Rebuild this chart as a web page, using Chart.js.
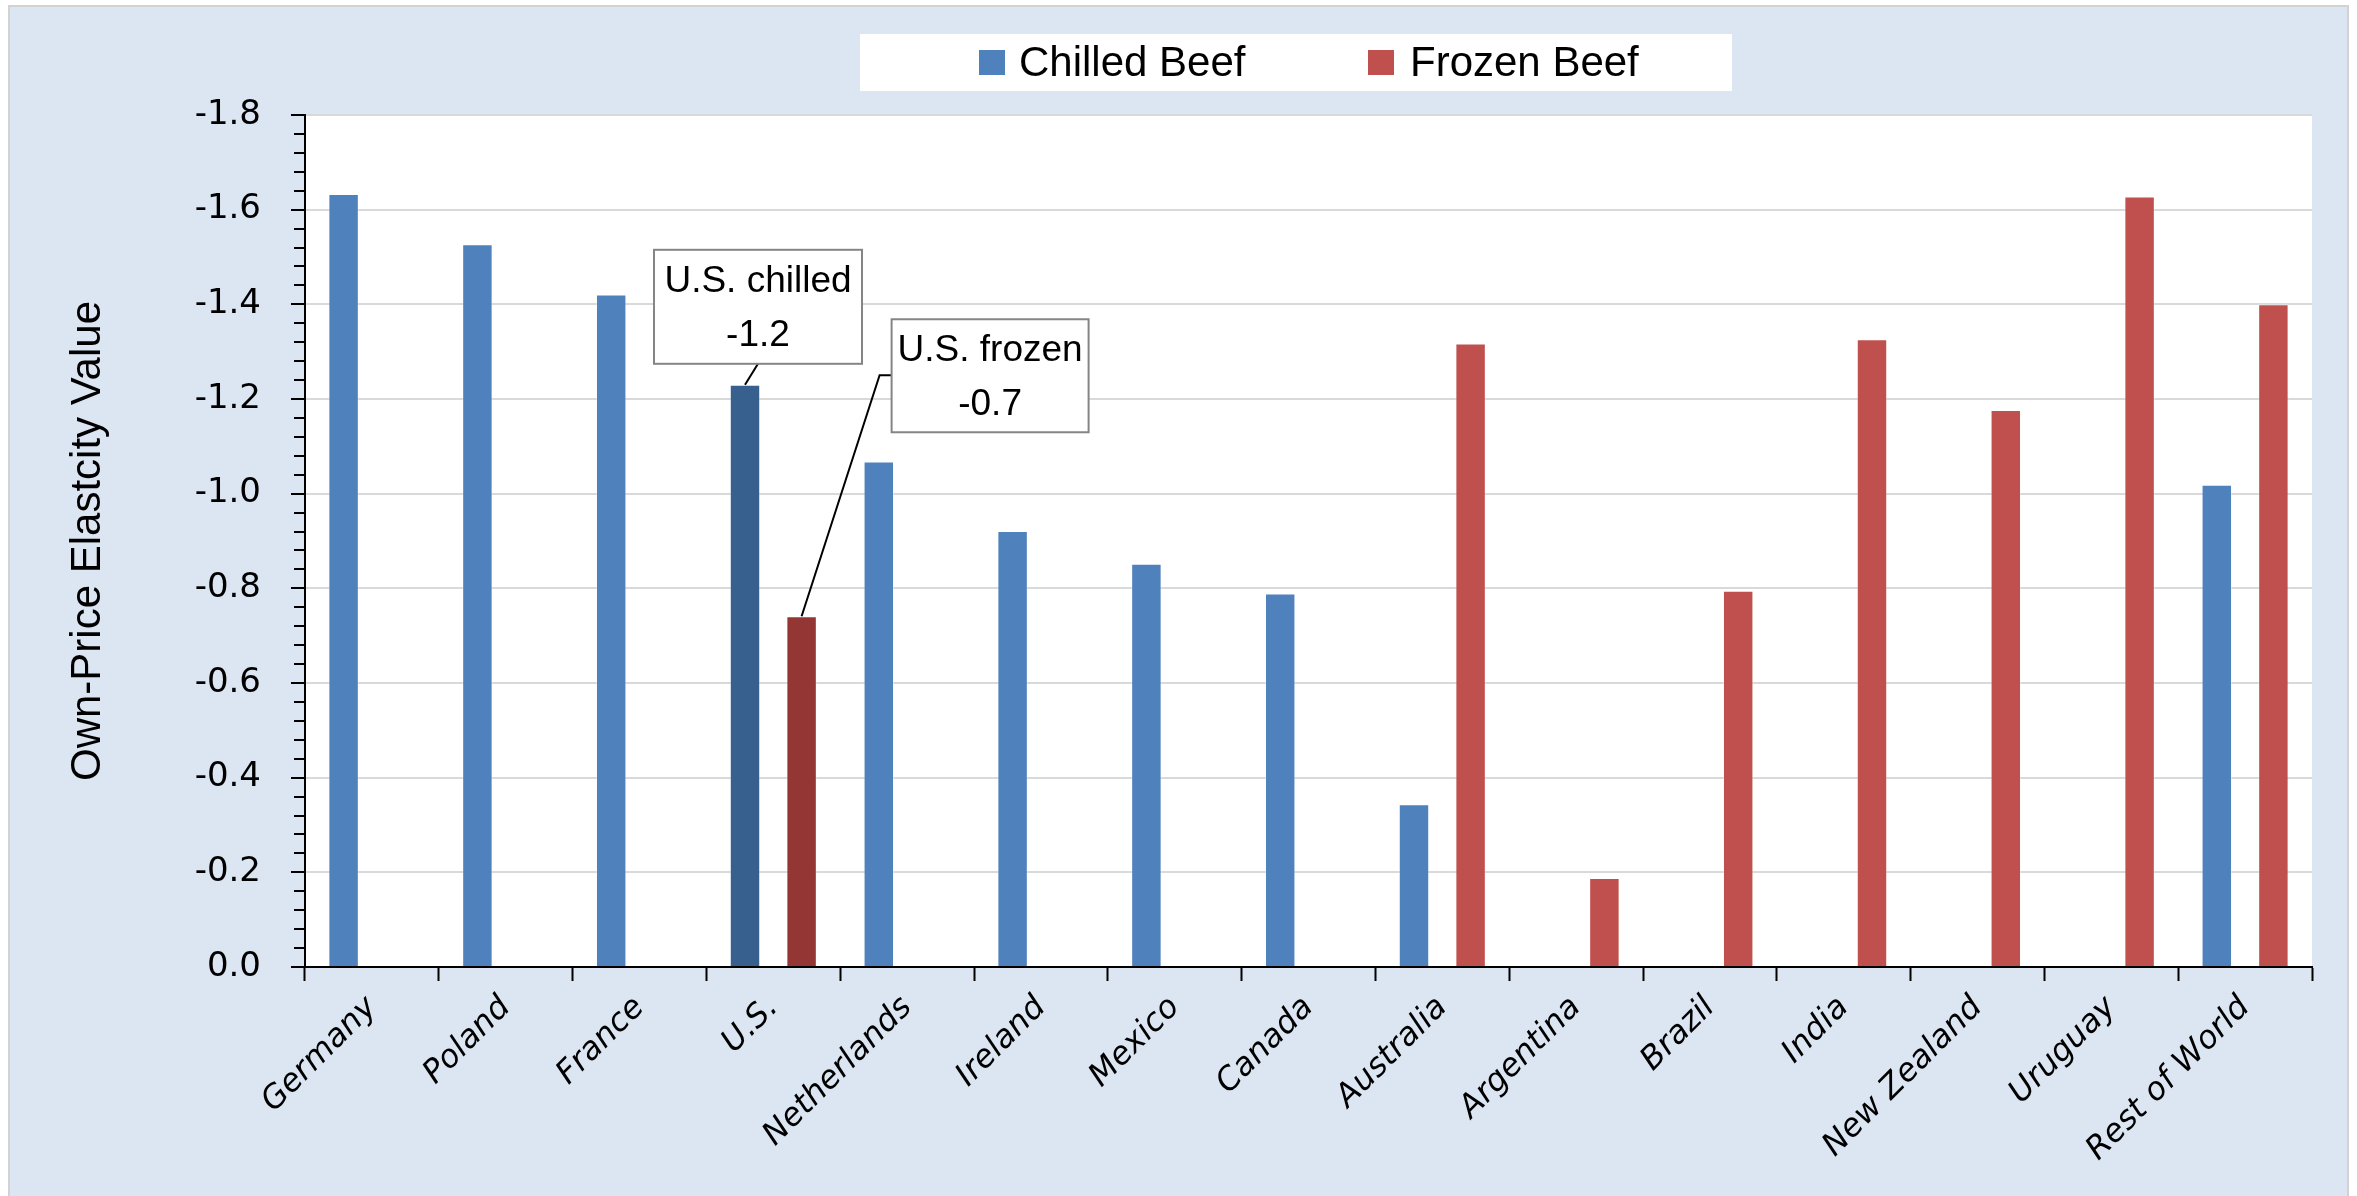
<!DOCTYPE html>
<html>
<head>
<meta charset="utf-8">
<script src="https://cdn.jsdelivr.net/npm/chart.js@4/dist/chart.umd.min.js"></script>
<style>
  html, body { margin: 0; padding: 0; background: #fff; }
  #wrap { width: 2357px; height: 1196px; position: relative; }
</style>
</head>
<body>
<div id="wrap"><canvas id="c" width="2357" height="1196"></canvas></div>
<script>
// Own-price elasticities of beef import demand, by supplying country
const countries = ['Germany', 'Poland', 'France', 'U.S.', 'Netherlands', 'Ireland', 'Mexico', 'Canada',
  'Australia', 'Argentina', 'Brazil', 'India', 'New Zealand', 'Uruguay', 'Rest of World'];
const chilledBeef = [-1.633, -1.527, -1.421, -1.23, -1.068, -0.921, -0.852, -0.789,
  -0.344, null, null, null, null, null, -1.019];
const frozenBeef = [null, null, null, -0.741, null, null, null, null,
  -1.317, -0.188, -0.795, -1.326, -1.177, -1.628, -1.40];
const seriesNames = ['Chilled Beef', 'Frozen Beef'];
const yAxisTitle = 'Own-Price Elastcity Value';
const highlighted = 'U.S.';
const calloutNames = ['U.S. chilled', 'U.S. frozen'];

const BLUE = '#4F81BD', BLUE_DARK = '#37608F';
const RED = '#C0504D', RED_DARK = '#943634';
const TEXT_FONT = '"Liberation Sans", Arial, sans-serif';

// Page frame, light-blue panel and white plot area
const framePlugin = {
  id: 'frame',
  beforeDraw(chart) {
    const { ctx, chartArea: a, width, height } = chart;
    ctx.save();
    ctx.fillStyle = '#ffffff';
    ctx.fillRect(0, 0, width, height);
    ctx.fillStyle = '#DCE6F2';
    ctx.fillRect(8, 5, 2341, height);
    ctx.strokeStyle = '#D2D2D2';
    ctx.lineWidth = 2;
    ctx.strokeRect(9, 6, 2339, height + 10);
    ctx.fillStyle = '#ffffff';
    ctx.fillRect(a.left, a.top, a.right - a.left, a.bottom - a.top);
    ctx.restore();
  }
};

// Minor tick marks on the value axis
const minorTicksPlugin = {
  id: 'minorTicks',
  afterDraw(chart) {
    const y = chart.scales.y;
    const { ctx } = chart;
    const x0 = chart.chartArea.left - 1;
    ctx.save();
    ctx.strokeStyle = '#000';
    ctx.lineWidth = 2;
    for (let i = 0; i <= 45; i++) {
      if (i % 5 === 0) continue;
      const py = Math.round(y.getPixelForValue(-i * 0.04));
      ctx.beginPath();
      ctx.moveTo(x0 - 10, py);
      ctx.lineTo(x0, py);
      ctx.stroke();
    }
    ctx.restore();
  }
};

// Legend panel at the top
const legendPlugin = {
  id: 'boxLegend',
  afterDraw(chart) {
    const { ctx } = chart;
    ctx.save();
    ctx.fillStyle = '#ffffff';
    ctx.fillRect(860, 34, 872, 57);
    const items = [
      { sx: 979, tx: 1019, color: BLUE, text: seriesNames[0] },
      { sx: 1368, tx: 1410, color: RED, text: seriesNames[1] }
    ];
    ctx.font = '42px ' + TEXT_FONT;
    ctx.textBaseline = 'middle';
    ctx.textAlign = 'left';
    items.forEach(it => {
      ctx.fillStyle = it.color;
      ctx.fillRect(it.sx, 50, 26, 25);
      ctx.fillStyle = '#000';
      ctx.fillText(it.text, it.tx, 64);
    });
    ctx.restore();
  }
};

// Callout boxes for the highlighted country
const calloutPlugin = {
  id: 'callouts',
  afterDatasetsDraw(chart) {
    const { ctx } = chart;
    const idx = countries.indexOf(highlighted);
    const cBar = chart.getDatasetMeta(0).data[idx];
    const fBar = chart.getDatasetMeta(1).data[idx];
    ctx.save();
    ctx.strokeStyle = '#000';
    ctx.lineWidth = 2;

    // chilled
    const bx = cBar.x, by = cBar.y;
    ctx.beginPath();
    ctx.moveTo(bx, by);
    ctx.lineTo(bx + 13, by - 21);
    ctx.stroke();
    const box1 = { x: bx + 13 - 104, y: by - 21 - 114, w: 208, h: 114 };

    // frozen
    const fx = fBar.x, fy = fBar.y;
    ctx.beginPath();
    ctx.moveTo(fx, fy);
    ctx.lineTo(fx + 78, fy - 241);
    ctx.lineTo(fx + 90, fy - 241);
    ctx.stroke();
    const box2 = { x: fx + 90, y: fy - 297, w: 197, h: 113 };

    const boxes = [
      [box1, calloutNames[0], chilledBeef[idx]],
      [box2, calloutNames[1], frozenBeef[idx]]
    ];
    boxes.forEach(([b, name, val]) => {
      ctx.fillStyle = '#ffffff';
      ctx.fillRect(b.x, b.y, b.w, b.h);
      ctx.strokeStyle = '#858585';
      ctx.lineWidth = 2;
      ctx.strokeRect(b.x, b.y, b.w, b.h);
      ctx.fillStyle = '#000';
      ctx.font = '37px ' + TEXT_FONT;
      ctx.textAlign = 'center';
      ctx.textBaseline = 'middle';
      ctx.fillText(name, b.x + b.w / 2, b.y + 32);
      ctx.fillText(val.toFixed(1), b.x + b.w / 2, b.y + 86);
    });
    ctx.restore();
  }
};

new Chart(document.getElementById('c'), {
  type: 'bar',
  data: {
    labels: countries,
    datasets: [
      {
        label: seriesNames[0],
        data: chilledBeef,
        backgroundColor: countries.map(c => c === highlighted ? BLUE_DARK : BLUE),
        borderColor: 'rgba(255,255,255,0.35)',
        borderWidth: 1
      },
      {
        label: seriesNames[1],
        data: frozenBeef,
        backgroundColor: countries.map(c => c === highlighted ? RED_DARK : RED),
        borderColor: 'rgba(255,255,255,0.35)',
        borderWidth: 1
      }
    ]
  },
  options: {
    responsive: false,
    animation: false,
    devicePixelRatio: 1,
    categoryPercentage: 0.846,
    barPercentage: 0.538,
    layout: { padding: { top: 115, right: 45, left: 0, bottom: 0 } },
    plugins: {
      legend: { display: false },
      tooltip: { enabled: false }
    },
    scales: {
      x: {
        ticks: {
          autoSkip: false,
          maxRotation: 45,
          minRotation: 45,
          color: '#000',
          padding: 8,
          font: { family: '"DejaVu Sans", Verdana, sans-serif', size: 32, style: 'italic' }
        },
        grid: { drawOnChartArea: false, offset: true, tickLength: 14, tickColor: '#000', tickWidth: 2 },
        border: { color: '#000', width: 2 },
        afterFit(s) { s.height = 229; }
      },
      y: {
        reverse: true,
        min: -1.8,
        max: 0,
        ticks: {
          stepSize: 0.2,
          color: '#000',
          padding: 30,
          font: { family: '"DejaVu Sans", Verdana, sans-serif', size: 34 },
          callback: v => Number(v).toFixed(1)
        },
        grid: { color: '#D9D9D9', lineWidth: 2, tickLength: 14, tickColor: '#000', tickWidth: 2 },
        border: { color: '#000', width: 2 },
        title: {
          display: true,
          text: yAxisTitle,
          color: '#000',
          font: { family: TEXT_FONT, size: 42 },
          padding: { top: 63, bottom: 0 }
        },
        afterFit(s) { s.width = 305; }
      }
    }
  },
  plugins: [framePlugin, minorTicksPlugin, legendPlugin, calloutPlugin]
});
</script>
</body>
</html>
